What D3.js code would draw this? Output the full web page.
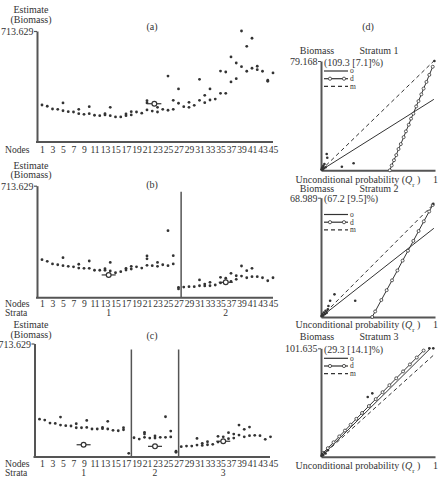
<!DOCTYPE html>
<html>
<head>
<meta charset="utf-8">
<script src="https://cdn.jsdelivr.net/npm/d3@7"></script>
<style>
  body { margin: 0; background: #fff; }
  svg text { font-family: "Liberation Serif", "DejaVu Serif", serif; font-size: 10px; fill: #333; }
  svg .ticklab text { font-size: 9.6px; }
  svg text.leg { font-size: 7.5px; }
  svg text.row { font-size: 9.6px; }
</style>
</head>
<body>
<div id="chart"></div>
<script>
// ---- data ----
var nodeTicks = [1, 3, 5, 7, 9, 11, 13, 15, 17, 19, 21, 23, 25, 27, 29, 31, 33, 35, 37, 39, 41, 43, 45];
var yMax = 713.629;

// estimates per node (index 0 = node 1)
var estA = [[238],[230],[212],[210],[251,201],[195],[193],[210,182],[178],[227,182],
  [172],[169],[182,174],[223,169],[161],[161],[180,169],[195,174],[193],[185],
  [266,251,206],[199],[223,193],[210],[424,204],[268,210],[341,249],[227],[255,223],[236],
  [403,268],[300,253],[341,270],[276],[456,313],[450,313],[547,386],[508,407],[713.629,484],[615,455],
  [667,474],[487,465],[455],[397,390],[444]];
var estB = [[242],[232],[215],[210],[255,204],[200],[197],[213,189],[187],[234,187],
  [175],[175],[185,175],[225,170],[159],[166],[187,176],[200,183],[197],[189],
  [266,248,206],[204],[225,200],[210],[427,204],[268,215],[66,56],[68],[70],[70],
  [113,76],[87,75],[98,76],[81],[130,94],[124,98],[155,104],[140,117],[202,138],[172,127],
  [187,134],[134],[127],[108],[127]];
var estC = [[238],[232],[213],[211],[251,201],[197],[195],[209,184],[184],[230,186],
  [176],[176],[186,178],[224,176],[168],[165],[184,171],[23],[121],[113],
  [155,144,124],[119],[132,119],[124],[253,124],[163,126],[36,30],[65],[69],[69],
  [117,75],[86,73],[96,77],[80],[130,94],[127,99],[153,115],[144,119],[201,138],[174,127],
  [188,134],[136],[134],[111],[127]];

// stratum means [node position, estimate] and stratum labels
var meanA = [[22.4, 246]];
var meanB = [[13.7, 145], [36, 98]];
var meanC = [[9.4, 77], [23, 67], [36, 99]];
var strataB = ["1", "2"];
var strataC = ["1", "2", "3"];
var breaksB = [27.5];
var breaksC = [18.5, 27.5];

// panel (d): strata
var stratumNames = ["Stratum 1", "Stratum 2", "Stratum 3"];
var stratumMax = [79.168, 68.989, 101.635];
var stratumNotes = ["(109.3 [7.1]%)", "(67.2 [9.5]%)", "(29.3 [14.1]%)"];
var lineO = [[[0, 0], [0.99, 51.4]], [[0, 0], [0.99, 51.3]], [[0, 0], [0.96, 101.6]]];
var lineM = [[[0, 0], [0.995, 79.6]], [[0, 0], [0.98, 64.8]], [[0, 0], [0.99, 95.5]]];
var lineD = [
  [[0.604,0],[0.62,3.5],[0.64,7.3],[0.66,11],[0.68,15.4],[0.70,19],[0.725,24],[0.745,28.2],[0.77,33],
   [0.79,37.4],[0.81,41],[0.835,46.3],[0.855,50.1],[0.88,55],[0.90,59.2],[0.925,64],[0.95,69.1],[0.98,75]],
  [[0.449,0],[0.475,3.2],[0.529,9.8],[0.576,15.5],[0.623,21.2],[0.67,26.9],[0.716,32.6],[0.763,38.3],
   [0.81,44],[0.856,49.7],[0.902,55.3],[0.949,61],[0.98,64.8]],
  [[0.02,3.5],[0.06,8],[0.11,13.5],[0.16,19],[0.21,24.5],[0.26,30],[0.31,35.5],[0.36,41],[0.42,47.5],
   [0.48,54],[0.54,60.5],[0.6,67],[0.66,73.5],[0.72,80],[0.78,86.5],[0.84,93],[0.9,99.5]]
];
var stratumPts = [
  [[0.005,0.8],[0.01,2],[0.015,0.5],[0.02,3.2],[0.025,1.4],[0.03,4.5],[0.04,2.2],[0.05,11.8],[0.055,9.1],[0.183,2.6],[0.286,5.1],[0.995,79.168]],
  [[0.005,0.6],[0.012,1.5],[0.02,0.8],[0.025,2.6],[0.035,1.8],[0.04,3.6],[0.05,2.4],[0.06,4.5],[0.065,6.4],[0.08,9.4],[0.118,13.1],[0.30,9.4],[0.985,65.5]],
  [[0.005,1],[0.01,2.5],[0.02,1.5],[0.03,4],[0.04,3],[0.06,6],[0.41,56],[0.45,59.4],[0.95,101.6],[0.985,101.6]]
];

var ink = "#333";
var svg = d3.select("#chart").append("svg").attr("width", 443).attr("height", 481);

// ---- panels (a) (b) (c) ----
var nodePanels = [
  {est: estA, means: meanA, strata: [], breaks: [], title: "(a)", top: 31, bottom: 142, axisX: 37, axisEnd: 273, shift: 0, titleY: 26, estY: 9.5, nodesY: 150, strataY: null},
  {est: estB, means: meanB, strata: strataB, breaks: breaksB, title: "(b)", top: 185.7, bottom: 297.7, axisX: 37, axisEnd: 273, shift: 0, titleY: 184, estY: 165, nodesY: 304, strataY: 313},
  {est: estC, means: meanC, strata: strataC, breaks: breaksC, title: "(c)", top: 343.5, bottom: 457, axisX: 34.5, axisEnd: 270, shift: -2.5, titleY: 335, estY: 324.7, nodesY: 463.7, strataY: 472.9}
];

var x = d3.scaleLinear().domain([1, 45]).range([42, 273]);

nodePanels.forEach(function(p) {
  var g = svg.append("g");
  var y = d3.scaleLinear().domain([0, yMax]).range([p.bottom, p.top]);

  g.append("text").attr("x", 31).attr("y", p.estY + 3.5).attr("text-anchor", "middle").text("Estimate");
  g.append("text").attr("x", 31).attr("y", p.estY + 13).attr("text-anchor", "middle").text("(Biomass)");
  g.append("text").attr("x", 152).attr("y", p.titleY + 3.5).attr("text-anchor", "middle").text(p.title);

  // y axis with the single max tick
  var ya = g.append("g").attr("transform", "translate(" + p.axisX + ",0)")
    .call(d3.axisLeft(y).tickValues([yMax]).tickFormat(d3.format(".3f")).tickSize(3).tickSizeOuter(0));
  ya.select(".domain").attr("stroke", "#555").attr("stroke-width", 2);
  ya.selectAll(".tick line").attr("stroke", "#555").attr("stroke-width", 1.2);
  ya.selectAll("text").attr("font-family", null).attr("font-size", null).attr("x", -3.5).attr("dy", "0.35em");

  g.append("line").attr("x1", p.axisX - 1).attr("x2", p.axisEnd).attr("y1", p.bottom).attr("y2", p.bottom)
    .attr("stroke", "#555").attr("stroke-width", 2);

  // node labels
  var xa = g.append("g").attr("class", "ticklab").attr("transform", "translate(0," + p.bottom + ")")
    .call(d3.axisBottom(x).tickValues(nodeTicks).tickSize(0).tickPadding(p.nodesY - p.bottom - 3.5));
  xa.select(".domain").remove();
  xa.attr("font-family", null).attr("font-size", null);
  g.append("text").attr("class", "row").attr("x", 5).attr("y", p.nodesY + 3.3).text("Nodes");

  if (p.strataY !== null) {
    g.append("text").attr("class", "row").attr("x", 5).attr("y", p.strataY + 3.3).text("Strata");
    g.selectAll(".stlab").data(p.strata).enter().append("text").attr("class", "row")
      .attr("x", function(d, i) { return x(p.means[i][0]) + p.shift; })
      .attr("y", p.strataY + 3.3).attr("text-anchor", "middle").text(function(d) { return d; });
  }

  // stratum breaks
  g.selectAll(".brk").data(p.breaks).enter().append("line")
    .attr("x1", function(d) { return x(d) + p.shift; }).attr("x2", function(d) { return x(d) + p.shift; })
    .attr("y1", p.top + 6).attr("y2", p.bottom).attr("stroke", "#555").attr("stroke-width", 1.5);

  var pts = [];
  p.est.forEach(function(vals, i) { vals.forEach(function(v) { pts.push({node: i + 1, value: v}); }); });
  g.selectAll(".pt").data(pts).enter().append("circle")
    .attr("cx", function(d) { return x(d.node) + p.shift; })
    .attr("cy", function(d) { return y(d.value); })
    .attr("r", 1.4).attr("fill", ink);

  var m = g.selectAll(".mean").data(p.means).enter().append("g")
    .attr("transform", function(d) { return "translate(" + (x(d[0]) + p.shift) + "," + y(d[1]) + ")"; });
  m.append("line").attr("x1", -7).attr("x2", 7).attr("stroke", ink).attr("stroke-width", 1.2);
  m.append("circle").attr("r", 2.4).attr("fill", "#fff").attr("stroke", ink).attr("stroke-width", 1.2);
});

// ---- panel (d) ----
svg.append("text").attr("x", 368).attr("y", 29.5).attr("text-anchor", "middle").text("(d)");

var dPanels = [
  {top: 61, bottom: 170.3, headY: 50, legY: 71, labY: 179},
  {top: 197.7, bottom: 317, headY: 188.8, legY: 214.5, labY: 324.5},
  {top: 348.3, bottom: 456.7, headY: 336.7, legY: 358.3, labY: 465.7}
];

dPanels.forEach(function(p, k) {
  var g = svg.append("g");
  var qx = d3.scaleLinear().domain([0, 1]).range([321, 435]);
  var by = d3.scaleLinear().domain([0, stratumMax[k]]).range([p.bottom, p.top]);

  g.append("text").attr("x", 317).attr("y", p.headY + 3.5).attr("text-anchor", "middle").text("Biomass");
  g.append("text").attr("x", 379).attr("y", p.headY + 3.5).attr("text-anchor", "middle").text(stratumNames[k]);
  g.append("text").attr("x", 324).attr("y", p.top + 4.5).text(stratumNotes[k]);

  var ya = g.append("g").attr("transform", "translate(321,0)")
    .call(d3.axisLeft(by).tickValues([stratumMax[k]]).tickFormat(d3.format(".3f")).tickSize(3).tickSizeOuter(0));
  ya.select(".domain").attr("stroke", "#555").attr("stroke-width", 2);
  ya.selectAll(".tick line").attr("stroke", "#555");
  ya.selectAll("text").attr("font-family", null).attr("font-size", null).attr("x", -3.5).attr("dy", "0.35em");

  var xa = g.append("g").attr("transform", "translate(0," + p.bottom + ")")
    .call(d3.axisBottom(qx).tickValues([1]).tickFormat(d3.format("d")).tickSize(0).tickSizeOuter(0).tickPadding(p.labY - p.bottom - 3.5));
  xa.select(".domain").attr("stroke", "#555").attr("stroke-width", 2);
  xa.attr("font-family", null).attr("font-size", null);

  var lab = g.append("text").attr("x", 358).attr("y", p.labY + 3.5).attr("text-anchor", "middle");
  lab.append("tspan").text("Unconditional probability (");
  lab.append("tspan").style("font-style", "italic").text("Q");
  lab.append("tspan").attr("baseline-shift", "sub").style("font-size", "7px").text("r");
  lab.append("tspan").text(" )");

  var line = d3.line().x(function(d) { return qx(d[0]); }).y(function(d) { return by(d[1]); });

  g.append("path").attr("d", line(lineM[k])).attr("fill", "none").attr("stroke", ink).attr("stroke-width", 1).attr("stroke-dasharray", "4,3");
  g.append("path").attr("d", line(lineO[k])).attr("fill", "none").attr("stroke", ink).attr("stroke-width", 1);
  g.append("path").attr("d", line(lineD[k])).attr("fill", "none").attr("stroke", ink).attr("stroke-width", 1);
  g.selectAll(".dp").data(lineD[k]).enter().append("circle")
    .attr("cx", function(d) { return qx(d[0]); }).attr("cy", function(d) { return by(d[1]); })
    .attr("r", 1.5).attr("fill", "#fff").attr("stroke", ink).attr("stroke-width", 0.8);
  g.selectAll(".sp").data(stratumPts[k]).enter().append("circle")
    .attr("cx", function(d) { return qx(d[0]); }).attr("cy", function(d) { return by(d[1]); })
    .attr("r", 1.3).attr("fill", ink);

  // legend
  var leg = [["o", null], ["d", "circ"], ["m", "4,3"]];
  leg.forEach(function(l, i) {
    var yy = p.legY + i * 7.7;
    g.append("line").attr("x1", 324).attr("x2", 348).attr("y1", yy).attr("y2", yy)
      .attr("stroke", ink).attr("stroke-width", 1.2)
      .attr("stroke-dasharray", l[1] === "4,3" ? "4,3" : null);
    if (l[1] === "circ") {
      [330, 344].forEach(function(cx) {
        g.append("circle").attr("cx", cx).attr("cy", yy).attr("r", 1.6).attr("fill", "#fff").attr("stroke", ink).attr("stroke-width", 0.8);
      });
    }
    g.append("text").attr("class", "leg").attr("x", 350).attr("y", yy + 2.3).text(l[0]);
  });
});
</script>
</body>
</html>
